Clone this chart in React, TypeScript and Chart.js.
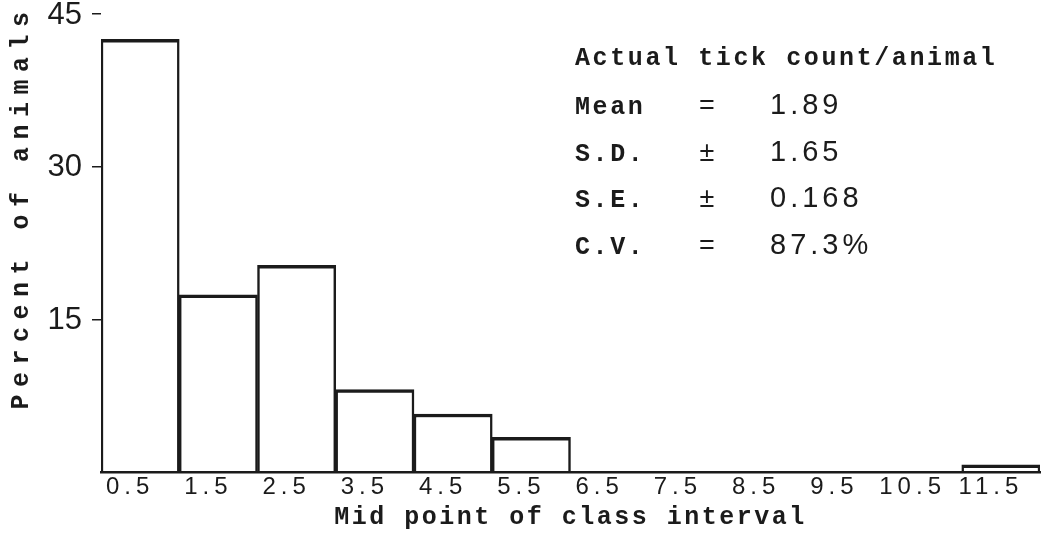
import React, { useEffect, useRef } from 'react';
import { Chart, registerables, LinearScale, CategoryScale } from 'chart.js';

Chart.register(...registerables);

// ---- data ----
const classLabels = ['0.5', '1.5', '2.5', '3.5', '4.5', '5.5', '6.5', '7.5', '8.5', '9.5', '10.5', '11.5'];
const percentAnimals = [42.5, 17.4, 20.3, 8.1, 5.7, 3.4, 0, 0, 0, 0, 0, 0.7];
const yTickValues = [15, 30, 45];
const statsHeading = 'Actual tick count/animal';
const statNames = ['Mean', 'S.D.', 'S.E.', 'C.V.'];
const statSigns = ['=', '±', '±', '='];
const statValues = ['1.89', '1.65', '0.168', '87.3%'];
const xTitle = 'Mid point of class interval';
const yTitle = 'Percent of animals';

const INK = '#1b1b1b';
const MONO = '"Liberation Mono", "DejaVu Sans Mono", monospace';
const SANS = '"Liberation Sans", Arial, sans-serif';

class SpacedCategoryScale extends CategoryScale {
  static id = 'spacedCategory';
  drawLabels(area: any) {
    const ctx = (this as any).ctx;
    ctx.save();
    ctx.letterSpacing = '5px';
    super.drawLabels(area);
    ctx.restore();
  }
  drawTitle() {
    const ctx = (this as any).ctx;
    ctx.save();
    ctx.letterSpacing = '2.5px';
    super.drawTitle();
    ctx.restore();
  }
}

class SpacedLinearScale extends LinearScale {
  static id = 'spacedLinear';
  drawTitle() {
    const ctx = (this as any).ctx;
    ctx.save();
    ctx.letterSpacing = '7.5px';
    ctx.translate(0, -36);
    super.drawTitle();
    ctx.restore();
  }
}

Chart.register(SpacedCategoryScale as any, SpacedLinearScale as any);

const statsPlugin = {
  id: 'statsBox',
  afterDraw(chart: any) {
    const ctx = chart.ctx;
    ctx.save();
    ctx.fillStyle = INK;
    ctx.textBaseline = 'alphabetic';
    ctx.textAlign = 'left';
    ctx.font = `bold 25px ${MONO}`;
    ctx.letterSpacing = '2.6px';
    ctx.fillText(statsHeading, 575, 65);
    statNames.forEach((name, i) => {
      const y = 114 + i * 46.7;
      ctx.textAlign = 'left';
      ctx.font = `bold 25px ${MONO}`;
      ctx.letterSpacing = '2.6px';
      ctx.fillText(name, 575, y);
      ctx.textAlign = 'center';
      ctx.letterSpacing = '0px';
      ctx.font = `27px ${SANS}`;
      ctx.fillText(statSigns[i], 707, y);
      ctx.textAlign = 'left';
      ctx.font = `29px ${SANS}`;
      ctx.letterSpacing = '4px';
      ctx.fillText(statValues[i], 770, y);
    });
    ctx.restore();
  },
};

export default function App() {
  const canvasRef = useRef<HTMLCanvasElement | null>(null);

  useEffect(() => {
    document.body.style.margin = '0';
    const canvas = canvasRef.current;
    if (!canvas) return;
    const chart = new Chart(canvas, {
      type: 'bar',
      data: {
        labels: classLabels,
        datasets: [
          {
            data: percentAnimals,
            backgroundColor: '#ffffff',
            borderColor: INK,
            borderWidth: { top: 3.5, left: 2.5, right: 2.5, bottom: 0 },
            barPercentage: 1,
            categoryPercentage: 1,
          },
        ],
      },
      options: {
        animation: false,
        responsive: false,
        devicePixelRatio: 1,
        layout: { padding: { top: 14, right: 9, left: 0, bottom: 0 } },
        plugins: {
          legend: { display: false },
          tooltip: { enabled: false },
        },
        scales: {
          x: {
            type: 'spacedCategory' as any,
            offset: true,
            grid: { display: false, drawTicks: false },
            border: { display: true, color: INK, width: 2.5, z: 1 },
            ticks: {
              autoSkip: false,
              maxRotation: 0,
              font: { family: SANS, size: 24 },
              color: INK,
              padding: 1,
              labelOffset: -10,
            },
            title: {
              display: true,
              text: xTitle,
              font: { family: MONO, size: 25, weight: 'bold' },
              color: INK,
              padding: { top: 0, bottom: 5 },
            },
            afterFit(s: any) {
              s.height = 66;
              s.paddingLeft = 0;
              s.paddingRight = 0;
            },
          },
          y: {
            type: 'spacedLinear' as any,
            min: 0,
            max: 45,
            afterBuildTicks(s: any) {
              s.ticks = yTickValues.map((v) => ({ value: v }));
            },
            grid: { drawOnChartArea: false, drawTicks: true, tickLength: 9, color: INK, lineWidth: 1.5 },
            border: { display: false },
            ticks: {
              font: { family: SANS, size: 31 },
              color: INK,
              padding: 10,
              labelOffset: 1,
            },
            title: {
              display: true,
              text: yTitle,
              font: { family: MONO, size: 25, weight: 'bold' },
              color: INK,
              padding: { top: 7, bottom: 0 },
            },
            afterFit(s: any) {
              s.width = 101;
              s.paddingTop = 0;
              s.paddingBottom = 0;
            },
          },
        },
      } as any,
      plugins: [statsPlugin],
    });
    return () => chart.destroy();
  }, []);

  return (
    <div style={{ width: 1049, height: 538 }}>
      <canvas ref={canvasRef} width={1049} height={538} />
    </div>
  );
}
